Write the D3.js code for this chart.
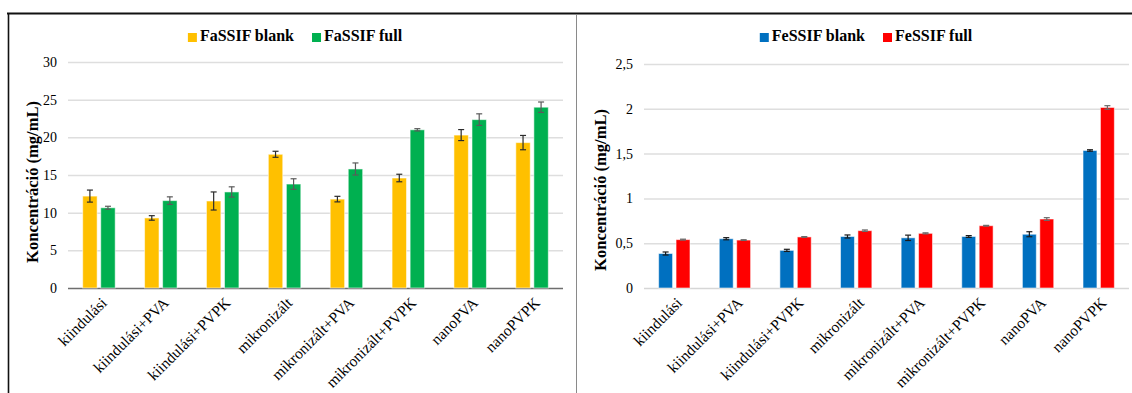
<!DOCTYPE html>
<html>
<head>
<meta charset="utf-8">
<script src="https://cdn.jsdelivr.net/npm/d3@7"></script>
<style>
  html, body { margin: 0; padding: 0; background: #fff; }
  svg { display: block; }
  text { font-family: "Liberation Serif", "Times New Roman", serif; fill: #000; }
</style>
</head>
<body>
<svg id="chart" width="1132" height="393"></svg>
<script>
// Shared formulation categories
const categories = ["kiindulási", "kiindulási+PVA", "kiindulási+PVPK", "mikronizált",
  "mikronizált+PVA", "mikronizált+PVPK", "nanoPVA", "nanoPVPK"];

// FaSSIF medium (mg/mL)
const fassifBlank    = [12.2, 9.3, 11.55, 17.75, 11.8, 14.6, 20.3, 19.3];
const fassifBlankErr = [0.8, 0.3, 1.2, 0.4, 0.37, 0.5, 0.73, 0.95];
const fassifFull     = [10.65, 11.6, 12.75, 13.8, 15.8, 21.0, 22.35, 24.0];
const fassifFullErr  = [0.2, 0.5, 0.68, 0.7, 0.8, 0.15, 0.77, 0.69];

// FeSSIF medium (mg/mL)
const fessifBlank    = [0.385, 0.55, 0.42, 0.575, 0.56, 0.575, 0.60, 1.535];
const fessifBlankErr = [0.017, 0.012, 0.012, 0.017, 0.03, 0.01, 0.028, 0.008];
const fessifFull     = [0.54, 0.535, 0.57, 0.64, 0.61, 0.695, 0.77, 2.015];
const fessifFullErr  = [0.005, 0.004, 0.004, 0.008, 0.006, 0.004, 0.015, 0.02];

// Axis ticks
const fassifTicks = [0, 5, 10, 15, 20, 25, 30];
const fessifTicks = [0, 0.5, 1, 1.5, 2, 2.5];

const yTitle = "Koncentráció  (mg/mL)";
const huFormat = v => String(v).replace(".", ",");

const svg = d3.select("#chart");

// Frame: heavy top rule, left rule, grey panel divider
svg.append("line").attr("x1", 7).attr("x2", 1132).attr("y1", 13.5).attr("y2", 13.5)
  .attr("stroke", "#111").attr("stroke-width", 2.2);
svg.append("line").attr("x1", 8.5).attr("x2", 8.5).attr("y1", 13).attr("y2", 393)
  .attr("stroke", "#111").attr("stroke-width", 1.6);
svg.append("line").attr("x1", 576.5).attr("x2", 576.5).attr("y1", 14).attr("y2", 393)
  .attr("stroke", "#8a8a8a").attr("stroke-width", 1);

function drawPanel(opt) {
  const g = svg.append("g");
  const x0 = d3.scaleBand().domain(categories).range(opt.xRange)
    .paddingInner(opt.padInner).paddingOuter(opt.padInner / 2);
  const keys = opt.series.map(s => s.name);
  const x1 = d3.scaleBand().domain(keys).range([0, x0.bandwidth()]).paddingInner(0.2);
  const y = d3.scaleLinear().domain([0, opt.ticks[opt.ticks.length - 1]]).range(opt.yRange);

  // Gridlines and tick labels via a left axis
  const axis = g.append("g").attr("transform", `translate(${opt.xRange[0]},0)`)
    .call(d3.axisLeft(y).tickValues(opt.ticks).tickFormat(opt.format)
      .tickSize(-(opt.xRange[1] - opt.xRange[0])).tickPadding(11));
  axis.select(".domain").remove();
  axis.selectAll(".tick line").attr("stroke", d => d === 0 ? opt.baseColor : "#dedede")
    .attr("stroke-width", d => d === 0 ? 1.3 : 1.5);
  axis.selectAll(".tick text").style("font-family", "Liberation Serif, serif")
    .style("font-size", "14px").attr("fill", "#000");

  // Bars
  opt.series.forEach(s => {
    g.append("g").selectAll("rect").data(categories).join("rect")
      .attr("x", c => x0(c) + x1(s.name))
      .attr("width", x1.bandwidth())
      .attr("y", (c, i) => y(s.values[i]))
      .attr("height", (c, i) => y(0) - y(s.values[i]))
      .attr("fill", s.color)
      .attr("stroke", "rgba(255,255,255,0.55)").attr("stroke-width", 1);
  });

  // Error bars
  opt.series.forEach(s => {
    const eg = g.append("g").attr("stroke", s.errColor).attr("stroke-width", 1.2);
    categories.forEach((c, i) => {
      const cx = x0(c) + x1(s.name) + x1.bandwidth() / 2;
      const lo = y(s.values[i] - s.errs[i]), hi = y(s.values[i] + s.errs[i]);
      eg.append("line").attr("x1", cx).attr("x2", cx).attr("y1", lo).attr("y2", hi);
      eg.append("line").attr("x1", cx - 3).attr("x2", cx + 3).attr("y1", lo).attr("y2", lo);
      eg.append("line").attr("x1", cx - 3).attr("x2", cx + 3).attr("y1", hi).attr("y2", hi);
    });
  });

  // Rotated category labels
  g.append("g").selectAll("text").data(categories).join("text")
    .attr("transform", c => `translate(${x0(c) + x0.bandwidth() / 2 + 5},${opt.yRange[0] + 12}) rotate(-45)`)
    .attr("text-anchor", "end")
    .attr("dy", "0.35em")
    .style("font-size", "15.5px")
    .text(c => c);

  // Y axis title
  g.append("text")
    .attr("transform", `translate(${opt.titleX},${opt.titleY}) rotate(-90)`)
    .attr("text-anchor", "middle")
    .attr("dy", "0.35em")
    .style("font-size", "16.5px").style("font-weight", "bold")
    .text(yTitle);

  // Legend, centred on the panel
  const lg = g.append("g");
  let cursor = 0;
  opt.series.forEach(s => {
    const it = lg.append("g");
    it.append("rect").attr("width", 9).attr("height", 9).attr("y", -8).attr("fill", s.color);
    const t = it.append("text").attr("x", 12).style("font-size", "16px")
      .style("font-weight", "bold").text(s.name);
    const w = 12 + t.node().getComputedTextLength();
    it.attr("transform", `translate(${cursor},0)`);
    cursor += w + 18;
  });
  const total = cursor - 18;
  lg.attr("transform", `translate(${opt.legendCx - total / 2},${opt.legendY})`);
}

drawPanel({
  xRange: [68, 563], yRange: [288, 62], padInner: 0.475,
  ticks: fassifTicks, format: d => d, baseColor: "#6e6e6e",
  titleX: 32, titleY: 182, legendCx: 295, legendY: 41,
  series: [
    { name: "FaSSIF blank", values: fassifBlank, errs: fassifBlankErr, color: "#FFC000", errColor: "#2b2b2b" },
    { name: "FaSSIF full", values: fassifFull, errs: fassifFullErr, color: "#00B050", errColor: "#5a5a5a" }
  ]
});

drawPanel({
  xRange: [644, 1129], yRange: [288, 64], padInner: 0.483,
  ticks: fessifTicks, format: huFormat, baseColor: "#d6d6d6",
  titleX: 600, titleY: 190, legendCx: 866, legendY: 41,
  series: [
    { name: "FeSSIF blank", values: fessifBlank, errs: fessifBlankErr, color: "#0070C0", errColor: "#1a1a1a" },
    { name: "FeSSIF full", values: fessifFull, errs: fessifFullErr, color: "#FF0000", errColor: "#6a6a6a" }
  ]
});
</script>
</body>
</html>
